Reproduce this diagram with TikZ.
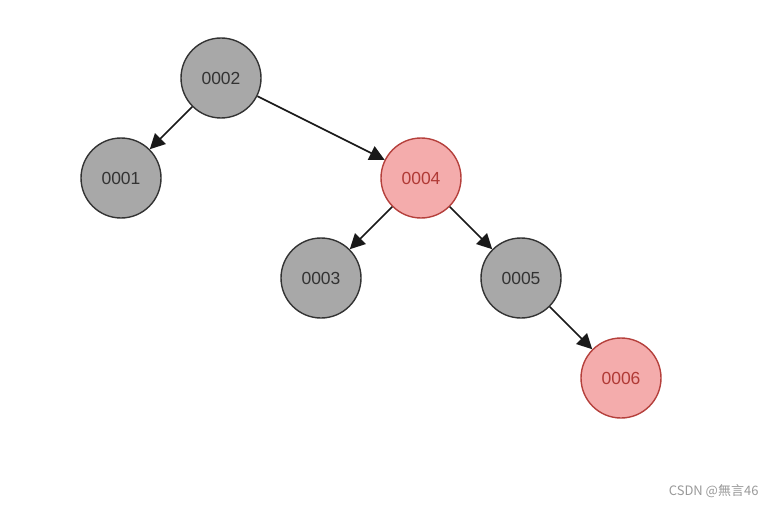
\documentclass[tikz,border=0pt]{standalone}
\usepackage{fontspec}
\setmainfont{Liberation Sans}
\newfontfamily\cjk{Noto Sans CJK SC}
\usetikzlibrary{arrows.meta,positioning}
\definecolor{nodegray}{HTML}{A8A8A8}
\definecolor{nodeline}{HTML}{333333}
\definecolor{redfill}{HTML}{F4ACAC}
\definecolor{redline}{HTML}{B5403C}
\definecolor{redtext}{HTML}{B03A36}
\definecolor{markgray}{HTML}{999999}
\begin{document}
\begin{tikzpicture}[x=1pt,y=-1pt,
    blacknode/.style={circle, draw=nodeline, line width=1.4pt, fill=nodegray,
        minimum size=80pt, inner sep=0pt, text=nodeline, font=\fontsize{17.5}{17.5}\selectfont},
    rednode/.style={blacknode, draw=redline, fill=redfill, text=redtext},
    edge/.style={draw=black!90, line width=1.6pt, -{Triangle[length=15pt,width=15pt]}}]
    \useasboundingbox (0,0) rectangle (776,508);
    % tree nodes
    \node[blacknode] (n2) at (221,78) {0002};
    \node[blacknode] (n1) at (121,178) {0001};
    \node[rednode]   (n4) at (421,178) {0004};
    \node[blacknode] (n3) at (321,278) {0003};
    \node[blacknode] (n5) at (521,278) {0005};
    \node[rednode]   (n6) at (621,378) {0006};
    % links
    \draw[edge] (n2) -- (n1);
    \draw[edge] (n2) -- (n4);
    \draw[edge] (n4) -- (n3);
    \draw[edge] (n4) -- (n5);
    \draw[edge] (n5) -- (n6);
    % watermark
    \node[anchor=east, text=markgray, font=\cjk\fontsize{13}{13}\selectfont] (mark) at (762,491) {CSDN @無言46};
\end{tikzpicture}
\end{document}
